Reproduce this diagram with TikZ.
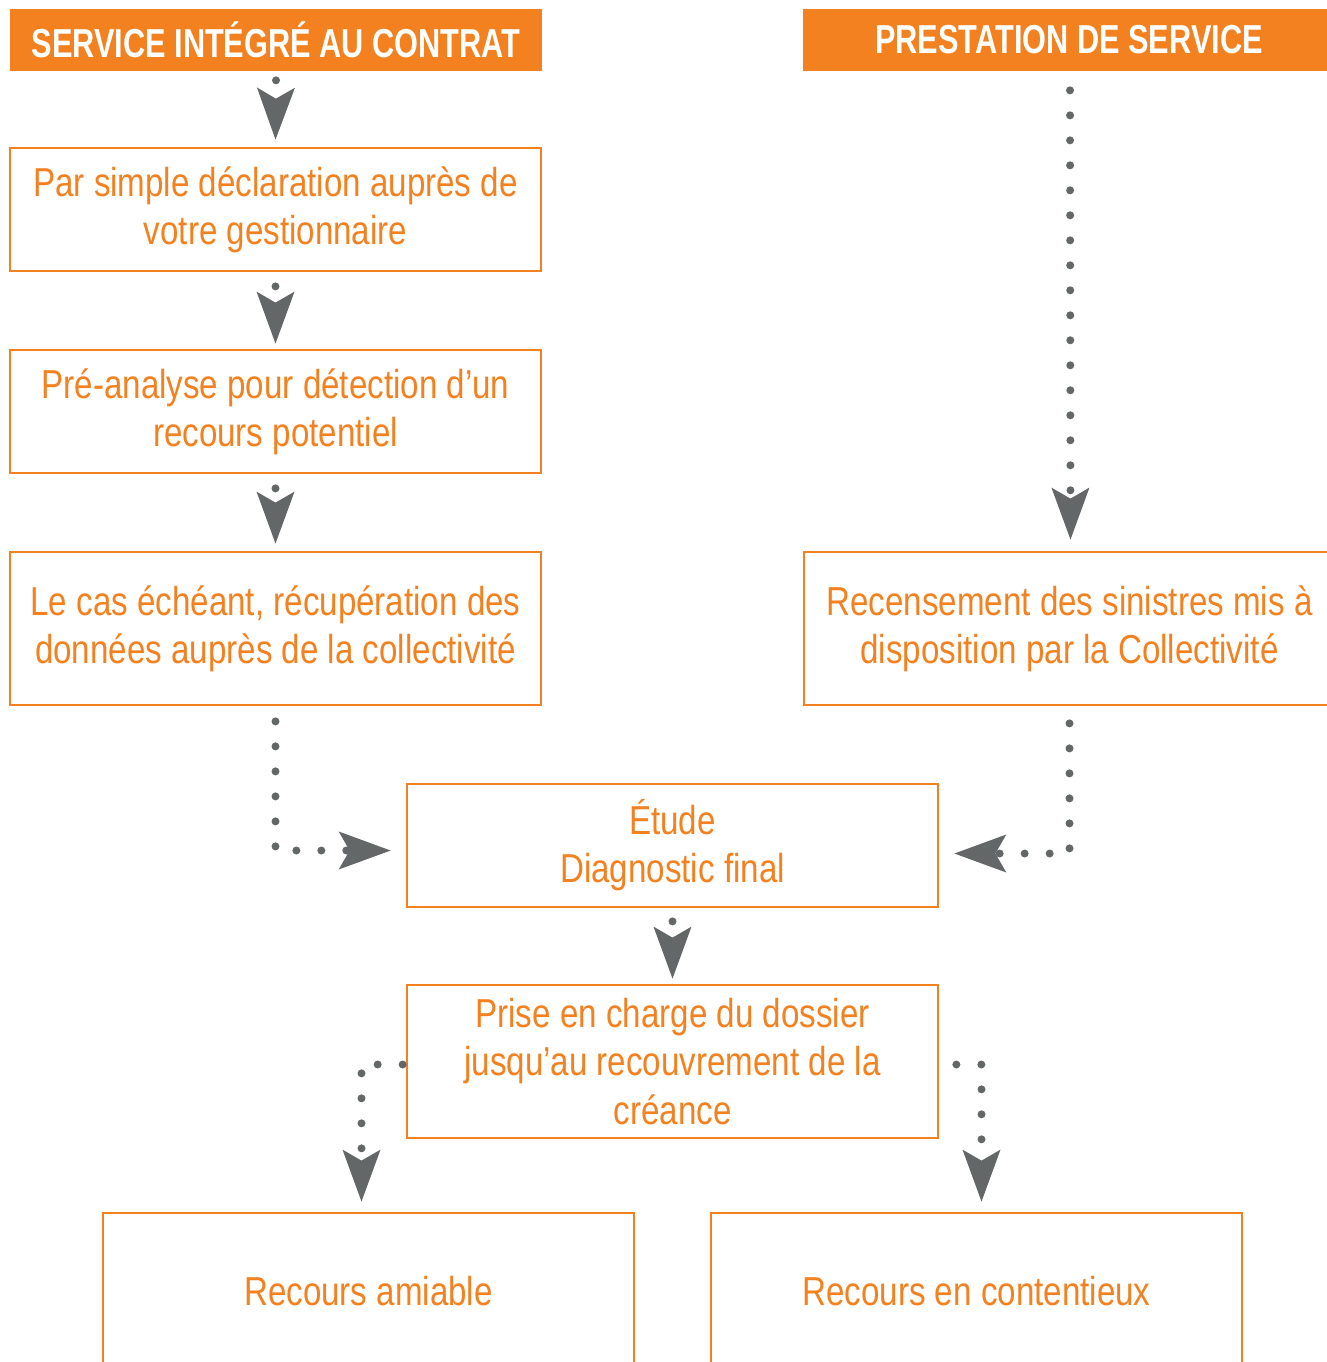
\documentclass[tikz,border=0pt]{standalone}
\usepackage{fontspec}
\setmainfont{Liberation Sans}[FakeStretch=0.82]
\newfontfamily\titrefont{Liberation Sans}[FakeStretch=0.76]
\usepackage{tikz}
\usetikzlibrary{arrows.meta, calc, positioning}
\definecolor{orangeRecours}{HTML}{F38120}
\definecolor{grisFleche}{HTML}{646767}
\tikzstyle{cadre} = [
    rectangle,
    draw = orangeRecours,
    line width = 1.6pt,
    minimum width = 10.62cm,
    minimum height = 2.46cm,
    inner sep = 0pt,
    text centered,
    align = center,
    text = orangeRecours,
    font = \fontsize{23}{27.5}\selectfont,
]
\tikzstyle{titre} = [
    rectangle,
    fill = orangeRecours,
    minimum width = 10.64cm,
    minimum height = 1.24cm,
    inner sep = 0pt,
    text = white,
    font = \titrefont\fontsize{23}{27.5}\selectfont\bfseries,
]
\tikzstyle{fleche} = [
    grisFleche,
    line width = 0.16cm,
    line cap = round,
    dash pattern = on 0pt off 0.5cm,
    -{Stealth[length = 1.04cm, width = 0.76cm, inset = 0.22cm, line width = 0pt]},
]
\begin{document}
\begin{tikzpicture} [x = 0.02cm, y = -0.02cm]
    \useasboundingbox (0, 0) rectangle (1327, 1362);

    \node (Integre) [titre] at (276, 40) {SERVICE INTÉGRÉ AU CONTRAT};
    \node (Prestation) [titre] at (1069, 40) {PRESTATION DE SERVICE};

    \node (Declaration) [cadre] at (275.5, 209.5) {Par simple déclaration auprès de\\votre gestionnaire};
    \node (PreAnalyse) [cadre] at (275.5, 411.5) {Pré-analyse pour détection d’un\\recours potentiel};
    \node (Recuperation) [cadre, minimum height = 3.06cm] at (275.5, 628.5) {Le cas échéant, récupération des\\données auprès de la collectivité};
    \node (Recensement) [cadre, minimum height = 3.06cm] at (1069.5, 628.5) {Recensement des sinistres mis à\\disposition par la Collectivité};

    \node (Etude) [cadre] at (672.5, 845.5) {Étude\\Diagnostic final};
    \node (PriseEnCharge) [cadre, minimum height = 3.06cm] at (672.5, 1061.5) {Prise en charge du dossier\\jusqu’au recouvrement de la\\créance};

    \node (Amiable) [cadre, minimum height = 3.12cm] at (368.5, 1291) {Recours amiable};
    \node (Contentieux) [cadre, minimum height = 3.12cm] at (976.5, 1291) {Recours en contentieux};

    \draw[fleche] ($(Integre.south) + (0, 9)$) -- ($(Declaration.north) + (0, -7)$);
    \draw[fleche] ($(Declaration.south) + (0, 14)$) -- ($(PreAnalyse.north) + (0, -5)$);
    \draw[fleche] ($(PreAnalyse.south) + (0, 14)$) -- ($(Recuperation.north) + (0, -7)$);
    \draw[fleche] ($(Prestation.south) + (1, 19)$) -- ($(Recensement.north) + (1, -11)$);

    \draw[fleche] ($(Recuperation.south) + (0, 15)$) |- ($(Etude.west) + (-15, 5)$);
    \draw[fleche] ($(Recensement.south) + (0, 17)$) |- ($(Etude.east) + (15, 8)$);
    \draw[fleche] ($(Etude.south) + (0, 13)$) -- ($(PriseEnCharge.north) + (0, -5)$);

    \draw[fleche] ($(PriseEnCharge.west) + (-3, 3)$) -| ($(Amiable.north) + (-7, -10)$);
    \draw[fleche] ($(PriseEnCharge.east) + (17, 3)$) -| ($(Contentieux.north) + (5, -10)$);
\end{tikzpicture}
\end{document}
